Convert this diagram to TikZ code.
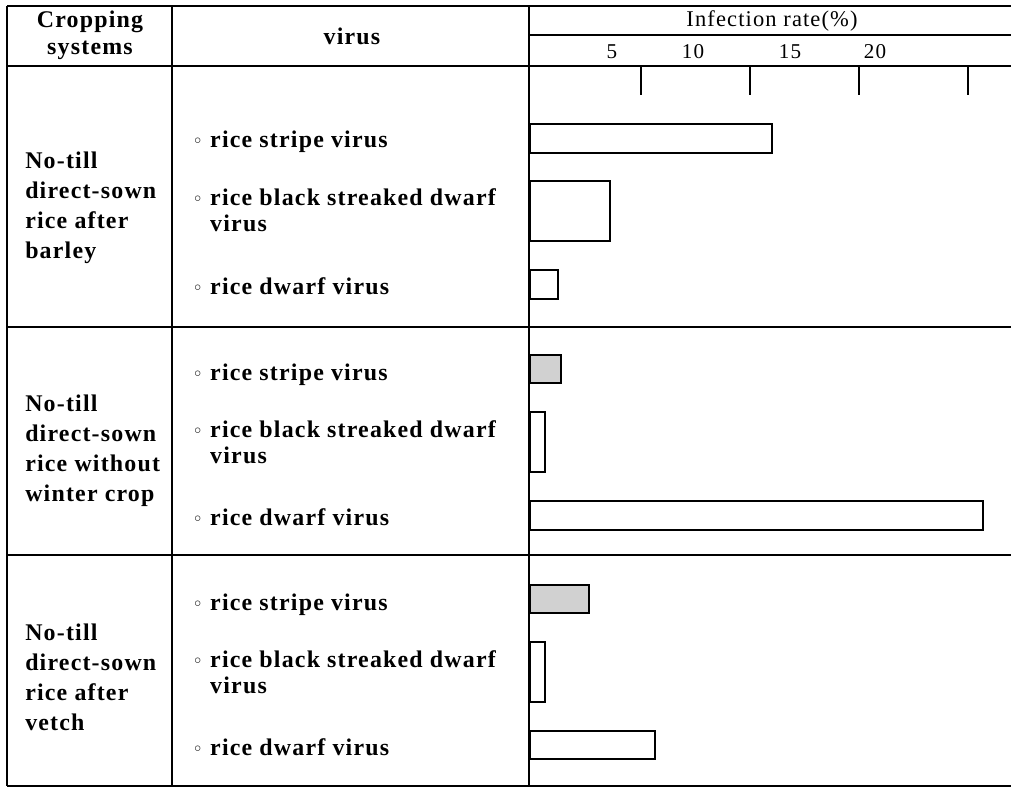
\documentclass[tikz,border=0pt]{standalone}
\usepackage{fontspec}
\setmainfont{Liberation Serif}[LetterSpace=5]
\newfontfamily\bulletfont{DejaVu Sans}
\newcommand{\bul}{{\bulletfont\mdseries\fontsize{13}{13}\selectfont ◦}\ }
\newcommand{\bulskip}{\phantom{\bul}}

\tikzset{
  rule/.style={line width=1.1pt},
  bar/.style={draw, line width=1.1pt},
  shadedbar/.style={bar, fill=black!18},
  cropcell/.style={anchor=base west, inner sep=0pt, align=left, font=\bfseries\fontsize{17}{21.3}\selectfont},
  viruscell/.style={anchor=base west, inner sep=0pt, align=left, font=\bfseries\fontsize{17}{18}\selectfont},
  headcell/.style={inner sep=0pt, align=center, font=\bfseries\fontsize{17}{19}\selectfont},
  scalecell/.style={inner sep=0pt, font=\fontsize{15}{15}\selectfont}
}

\begin{document}
\begin{tikzpicture}[x=0.025cm, y=-0.025cm]
\useasboundingbox (0,0) rectangle (1011,788);

% table frame
\draw[rule] (7,6) -- (1011,6);
\draw[rule] (529,35) -- (1011,35);
\draw[rule] (7,66) -- (1011,66);
\draw[rule] (7,327) -- (1011,327);
\draw[rule] (7,555) -- (1011,555);
\draw[rule] (7,786) -- (1011,786);
\draw[rule] (7,6) -- (7,786);
\draw[rule] (172,6) -- (172,786);
\draw[rule] (529,6) -- (529,786);

% header
\node[headcell] (crophead) at (90,35) {Cropping\\systems};
\node[headcell] (virushead) at (352,36) {virus};
\node[scalecell, font=\fontsize{16}{16}\selectfont] (ratehead) at (772,21) {Infection rate(\%)};
\node[scalecell] (five) at (612,52) {5};
\node[scalecell] (ten) at (693,52) {10};
\node[scalecell] (fifteen) at (790,52) {15};
\node[scalecell] (twenty) at (875,52) {20};
\foreach \x in {641,750,859,968}
  \draw[rule] (\x,66) -- (\x,95);

% no-till after barley (base = last line)
\node[cropcell] (barley) at (25,258) {No-till\\direct-sown\\rice after\\barley};
\node[viruscell] (bstripe) at (192,148) {\bul rice stripe virus};
\node[viruscell] (bblack) at (192,231) {\bul rice black streaked dwarf\\\bulskip virus};
\node[viruscell] (bdwarf) at (192,294) {\bul rice dwarf virus};
\draw[bar] (530,124) rectangle (772,153);
\draw[bar] (530,181) rectangle (610,241);
\draw[bar] (530,270) rectangle (558,299);

% no-till without winter crop
\node[cropcell] (nowinter) at (25,501) {No-till\\direct-sown\\rice without\\winter crop};
\node[viruscell] (wstripe) at (192,380) {\bul rice stripe virus};
\node[viruscell] (wblack) at (192,463) {\bul rice black streaked dwarf\\\bulskip virus};
\node[viruscell] (wdwarf) at (192,525) {\bul rice dwarf virus};
\draw[shadedbar] (530,355) rectangle (561,383);
\draw[bar] (530,412) rectangle (545,472);
\draw[bar] (530,501) rectangle (983,530);

% no-till after vetch
\node[cropcell] (vetch) at (25,730) {No-till\\direct-sown\\rice after\\vetch};
\node[viruscell] (vstripe) at (192,610) {\bul rice stripe virus};
\node[viruscell] (vblack) at (192,693) {\bul rice black streaked dwarf\\\bulskip virus};
\node[viruscell] (vdwarf) at (192,755) {\bul rice dwarf virus};
\draw[shadedbar] (530,585) rectangle (589,613);
\draw[bar] (530,642) rectangle (545,702);
\draw[bar] (530,731) rectangle (655,759);

\end{tikzpicture}
\end{document}
